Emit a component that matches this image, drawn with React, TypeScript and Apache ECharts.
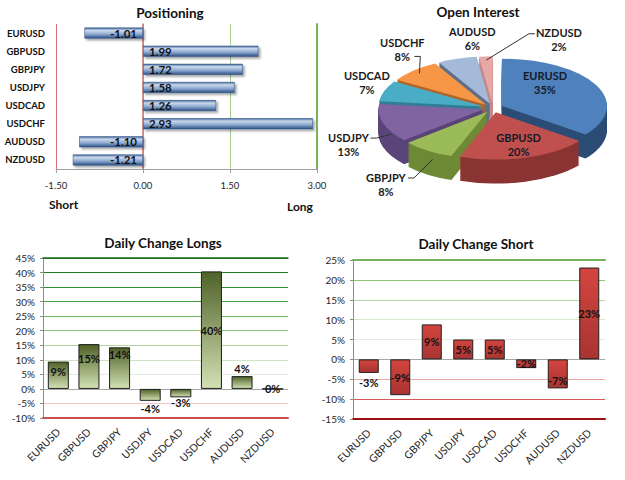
import React, { useEffect, useRef } from 'react';
import * as echarts from 'echarts';

// ---------------- data ----------------
const pairs = ['EURUSD', 'GBPUSD', 'GBPJPY', 'USDJPY', 'USDCAD', 'USDCHF', 'AUDUSD', 'NZDUSD'];
const positioning = [-1.01, 1.99, 1.72, 1.58, 1.26, 2.93, -1.1, -1.21];
const positionAxis = { min: -1.5, max: 3, interval: 1.5 };
const pieShares = [35, 20, 8, 13, 7, 8, 6, 2];
const dailyLongs = [9.4, 15.4, 14.3, -4.1, -2.9, 40.4, 4.4, 0];
const longsAxis = { min: -10, max: 45, interval: 5 };
const dailyShorts = [-3.4, -9.0, 8.8, 5.0, 5.0, -2.2, -7.3, 23.1];
const shortsAxis = { min: -15, max: 25, interval: 5 };

// ---------------- styles / layout ----------------
const FONT = 'Lato, "Open Sans", Arial, sans-serif';
const pieTop = ['#4f81bd', '#c0504d', '#9bbb59', '#8064a2', '#4bacc6', '#f79646', '#a5b9d9', '#e8a8a8'];
const pieSide = ['#2c4d75', '#8a3533', '#6e8a36', '#5a4479', '#2f7f94', '#b0652a', '#5f6f87', '#c58a8a'];
const PIE = { cx: 493, cy: 108, r: 105, k: 0.45, depth: 24, explode: 10 };
const pieLabelNudge = [[-4, -13], [8, 10], [-26, 11], [-8, 5], [9, -4], [8, -12], [24, -8], [75, -4]];
const pieLeaderAnchor: (number[] | null)[] = [null, null, [22, -6], [22, -6], null, [12, 7], null, [-24, -6]];
const longsLabel = [
  { position: 'insideTop', distance: 4 },
  { position: 'insideTop', distance: 9 },
  { position: 'insideTop', distance: 2 },
  { position: 'bottom', distance: 2 },
  { position: 'bottom', distance: 0 },
  { position: 'inside' },
  { position: 'top', distance: 2 },
  { position: 'inside' },
];
const shortsLabel = [
  { position: 'bottom', distance: 4 },
  { position: 'inside' },
  { position: 'inside' },
  { position: 'inside' },
  { position: 'inside' },
  { position: 'inside' },
  { position: 'insideBottom', distance: 2 },
  { position: 'inside' },
];
const longsGridColors = ['#c0504d', '#f2c4c4', '#a6a6a6', '#e3ebdf', '#cfe3c3', '#b1d59f', '#8fc67d', '#6cb35c', '#449e3f', '#2f8e2f', '#217e21', '#1a701a'];
const shortsGridColors = ['#9c1010', '#d65a5a', '#eaa8a8', '#a6a6a6', '#e6e9e4', '#d5e8ca', '#b6d7a2', '#8fc676', '#70ad55'];

const pieTotal = pieShares.reduce((a, b) => a + b, 0);
const pieStart = pieShares.map((_, i) => pieShares.slice(0, i).reduce((a, b) => a + b, 0));

function renderPie(params: any, api: any) {
  const i = params.dataIndex;
  const v = api.value(0) as number;
  const { cx, cy, r, k, depth, explode } = PIE;
  const a0 = -Math.PI / 2 + (2 * Math.PI * pieStart[i]) / pieTotal;
  const a1 = a0 + (2 * Math.PI * v) / pieTotal;
  const m = (a0 + a1) / 2;
  const cm = Math.cos(m);
  const sm = Math.sin(m);
  const sx = cx + explode * cm;
  const sy = cy + explode * sm;
  const faces: any[] = [];
  for (let d = depth; d >= 1; d--) {
    faces.push({
      type: 'sector',
      shape: { cx: sx, cy: sy + d / k, r, r0: 0, startAngle: a0, endAngle: a1, clockwise: true },
      style: { fill: pieSide[i] },
      z2: 2 + sm,
    });
  }
  faces.push({
    type: 'sector',
    shape: { cx: sx, cy: sy, r, r0: 0, startAngle: a0, endAngle: a1, clockwise: true },
    style: { fill: pieTop[i] },
    z2: 10,
  });
  const inside = v >= 15;
  let lx: number;
  let ly: number;
  if (inside) {
    const rr = 0.5 * r + explode;
    lx = cx + rr * cm;
    ly = cy + rr * k * sm;
  } else {
    const rr = r + explode + 28;
    lx = cx + rr * cm;
    ly = cy + rr * k * sm + (sm > 0 ? depth / 2 : 0);
  }
  lx += pieLabelNudge[i][0];
  ly += pieLabelNudge[i][1];
  const children: any[] = [
    { type: 'group', y: cy * (1 - k), scaleY: k, children: faces },
    {
      type: 'text',
      x: lx,
      y: ly,
      z2: 30,
      style: {
        text: `${pairs[i]}\n${v}%`,
        fill: inside ? '#141a28' : '#1a1a1a',
        fontSize: 11,
        fontWeight: 'bold',
        fontFamily: FONT,
        align: 'center',
        verticalAlign: 'middle',
        lineHeight: 14,
      },
    },
  ];
  const anc = pieLeaderAnchor[i];
  if (anc) {
    const ax = lx + anc[0];
    const ay = ly + anc[1];
    const tail = anc[0] > 0 ? 6 : -6;
    const rr = r * 0.92 + explode;
    const bx = cx + rr * cm;
    const by = cy + rr * k * sm + (sm > 0 ? depth * 0.5 : 0);
    children.push({
      type: 'polyline',
      z2: 30,
      shape: { points: [[ax, ay], [ax + tail, ay], [bx, by]] },
      style: { stroke: '#333', lineWidth: 1, fill: null },
    });
  }
  return { type: 'group', children };
}

function buildOption(): any {
  const blueBar = new echarts.graphic.LinearGradient(0, 0, 0, 1, [
    { offset: 0, color: '#46699d' },
    { offset: 0.25, color: '#cbd9ec' },
    { offset: 0.6, color: '#8daad1' },
    { offset: 1, color: '#2d4f84' },
  ]);
  const greenBar = new echarts.graphic.LinearGradient(0, 0, 0, 1, [
    { offset: 0, color: '#4f6228' },
    { offset: 1, color: '#d2e2b4' },
  ]);
  const redBar = new echarts.graphic.LinearGradient(0, 0, 0, 1, [
    { offset: 0, color: '#d4453f' },
    { offset: 1, color: '#a83432' },
  ]);
  const titleStyle = { fontSize: 13.5, fontWeight: 'bold', color: '#111', fontFamily: FONT };
  const axisText = { fontFamily: FONT, color: '#262626' };
  const barLabel = {
    show: true,
    fontSize: 11,
    fontWeight: 'bold',
    color: '#111',
    fontFamily: FONT,
    formatter: (p: any) => `${Math.round(Number(p.value))}%`,
  };
  return {
    animation: false,
    backgroundColor: '#ffffff',
    textStyle: { fontFamily: FONT },
    title: [
      { text: 'Positioning', left: 170, top: 6, textAlign: 'center', padding: 0, textStyle: titleStyle },
      { text: 'Open Interest', left: 478, top: 5, textAlign: 'center', padding: 0, textStyle: titleStyle },
      { text: 'Daily Change Longs', left: 163, top: 236, textAlign: 'center', padding: 0, textStyle: titleStyle },
      { text: 'Daily Change Short', left: 476, top: 237, textAlign: 'center', padding: 0, textStyle: titleStyle },
    ],
    grid: [
      { left: 56, top: 24, width: 261, height: 145 },
      { left: 43, top: 258, width: 245, height: 160 },
      { left: 353, top: 260, width: 252, height: 159 },
    ],
    xAxis: [
      {
        gridIndex: 0,
        type: 'value',
        min: positionAxis.min,
        max: positionAxis.max,
        interval: positionAxis.interval,
        axisLabel: { ...axisText, fontSize: 9.5, margin: 11, formatter: (v: number) => v.toFixed(2) },
        axisLine: { show: true, lineStyle: { color: '#a0a0a0', width: 1 } },
        axisTick: { show: true, length: 4, lineStyle: { color: '#a0a0a0' } },
        splitLine: { show: true, lineStyle: { color: ['#d47171', '#c4c4c4', '#a9d18e', '#77b55a'], width: 1 } },
      },
      {
        gridIndex: 1,
        type: 'category',
        data: pairs,
        axisLabel: { ...axisText, fontSize: 10.5, rotate: 45, margin: 12, interval: 0 },
        axisLine: { show: true, onZero: false, lineStyle: { color: '#c9504d', width: 2 } },
        axisTick: { show: false },
      },
      {
        gridIndex: 1,
        type: 'category',
        position: 'top',
        data: pairs,
        axisLabel: { show: false },
        axisLine: { show: true, onZero: false, lineStyle: { color: '#1a701a', width: 1.5 } },
        axisTick: { show: false },
      },
      {
        gridIndex: 2,
        type: 'category',
        data: pairs,
        axisLabel: { ...axisText, fontSize: 10.5, rotate: 45, margin: 12, interval: 0 },
        axisLine: { show: true, onZero: false, lineStyle: { color: '#9c1010', width: 2 } },
        axisTick: { show: false },
      },
      {
        gridIndex: 2,
        type: 'category',
        position: 'top',
        data: pairs,
        axisLabel: { show: false },
        axisLine: { show: true, onZero: false, lineStyle: { color: '#74b25a', width: 2 } },
        axisTick: { show: false },
      },
    ],
    yAxis: [
      {
        gridIndex: 0,
        type: 'category',
        data: pairs,
        inverse: true,
        axisLabel: { ...axisText, color: '#111', fontSize: 9.5, fontWeight: 'bold', margin: 11 },
        axisLine: { show: true, lineStyle: { color: '#d47171', width: 1.5 } },
        axisTick: { show: false },
      },
      {
        gridIndex: 0,
        type: 'category',
        data: pairs,
        inverse: true,
        position: 'right',
        axisLabel: { show: false },
        axisLine: { show: true, lineStyle: { color: '#77b55a', width: 2 } },
        axisTick: { show: false },
      },
      {
        gridIndex: 1,
        type: 'value',
        min: longsAxis.min,
        max: longsAxis.max,
        interval: longsAxis.interval,
        axisLabel: { ...axisText, fontSize: 10, margin: 8, formatter: '{value}%' },
        axisLine: { show: true, lineStyle: { color: '#8c8c8c' } },
        axisTick: { show: true, length: 3, lineStyle: { color: '#8c8c8c' } },
        splitLine: { show: true, lineStyle: { color: longsGridColors, width: 1 } },
      },
      {
        gridIndex: 2,
        type: 'value',
        min: shortsAxis.min,
        max: shortsAxis.max,
        interval: shortsAxis.interval,
        axisLabel: { ...axisText, fontSize: 10, margin: 8, formatter: '{value}%' },
        axisLine: { show: true, lineStyle: { color: '#8c8c8c' } },
        axisTick: { show: true, length: 3, lineStyle: { color: '#8c8c8c' } },
        splitLine: { show: true, lineStyle: { color: shortsGridColors, width: 1 } },
      },
    ],
    graphic: [
      { type: 'text', left: 49, top: 198, style: { text: 'Short', fontSize: 12, fontWeight: 'bold', fill: '#111', fontFamily: FONT } },
      { type: 'text', left: 287, top: 200, style: { text: 'Long', fontSize: 12, fontWeight: 'bold', fill: '#111', fontFamily: FONT } },
    ],
    series: [
      {
        type: 'bar',
        xAxisIndex: 0,
        yAxisIndex: 0,
        barWidth: 11,
        data: positioning.map((v) => ({ value: v, label: { position: v < 0 ? 'insideRight' : 'insideLeft' } })),
        itemStyle: {
          color: blueBar,
          borderColor: '#34598b',
          borderWidth: 0.6,
          shadowColor: 'rgba(0,0,0,0.35)',
          shadowBlur: 2,
          shadowOffsetX: 2,
          shadowOffsetY: 2,
        },
        label: {
          show: true,
          distance: 6,
          fontSize: 11.5,
          fontWeight: 'bold',
          color: '#111',
          fontFamily: FONT,
          formatter: (p: any) => Number(p.value).toFixed(2),
        },
      },
      {
        type: 'bar',
        xAxisIndex: 1,
        yAxisIndex: 2,
        barWidth: 21,
        data: dailyLongs.map((v, i) => ({ value: v, label: longsLabel[i] })),
        itemStyle: { color: greenBar, borderColor: '#1e1e1e', borderWidth: 1 },
        label: barLabel,
      },
      {
        type: 'bar',
        xAxisIndex: 3,
        yAxisIndex: 3,
        barWidth: 20,
        data: dailyShorts.map((v, i) => ({ value: v, label: shortsLabel[i] })),
        itemStyle: { color: redBar, borderColor: '#1e1e1e', borderWidth: 1 },
        label: barLabel,
      },
      {
        type: 'custom',
        coordinateSystem: 'none',
        data: pieShares,
        renderItem: renderPie,
      },
    ],
  };
}

export default function App() {
  const ref = useRef<HTMLDivElement>(null);
  useEffect(() => {
    const chart = echarts.init(ref.current as HTMLDivElement, null, { renderer: 'svg' });
    chart.setOption(buildOption());
    return () => chart.dispose();
  }, []);
  return (
    <div
      ref={ref}
      style={{ position: 'fixed', left: 0, top: 0, width: 625, height: 480, background: '#ffffff' }}
    />
  );
}
